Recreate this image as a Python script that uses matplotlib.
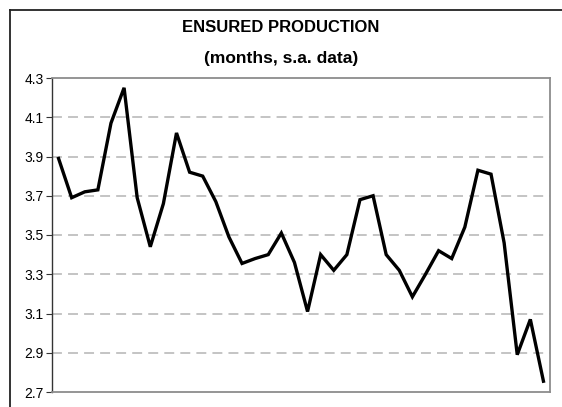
import matplotlib
matplotlib.use("Agg")
import matplotlib.pyplot as plt
from matplotlib.lines import Line2D

plt.rcParams['font.family'] = ['Liberation Sans', 'DejaVu Sans']

# Ensured production, months, seasonally adjusted (one value per period)
values = [3.89, 3.69, 3.72, 3.73, 4.07, 4.25, 3.69, 3.44, 3.66, 4.02,
          3.82, 3.80, 3.67, 3.49, 3.355, 3.38, 3.40, 3.51, 3.36, 3.11,
          3.40, 3.32, 3.40, 3.68, 3.70, 3.40, 3.32, 3.185, 3.30, 3.42,
          3.38, 3.54, 3.83, 3.81, 3.46, 2.89, 3.07, 2.755]
yticks = [2.7, 2.9, 3.1, 3.3, 3.5, 3.7, 3.9, 4.1, 4.3]
title1 = "ENSURED PRODUCTION"
title2 = "(months, s.a. data)"

W, H = 562, 407
fig = plt.figure(figsize=(W / 100, H / 100), dpi=100)
ax = fig.add_axes([52 / W, 1 - 392 / H, (550 - 52) / W, (392 - 78) / H])

x = [i + 0.5 for i in range(len(values))]
ax.plot(x, values, color='black', lw=2.4, solid_joinstyle='miter', zorder=3)

ax.set_xlim(0, len(values))
ax.set_ylim(2.7, 4.3)
ax.set_yticks(yticks)
ax.set_yticklabels([f"{v:.1f}" for v in yticks], fontsize=10)
ax.set_xticks([])
for v in yticks[1:-1]:
    ax.axhline(v, color='#b4b4b4', lw=1.1, dashes=(6.5, 4), zorder=1)

ax.tick_params(axis='y', length=4, width=0.8, color='#333333', pad=2)
for side in ['top', 'right', 'bottom']:
    ax.spines[side].set_color('#8c8c8c')
    ax.spines[side].set_linewidth(1.3)
ax.spines['left'].set_color('#333333')
ax.spines['left'].set_linewidth(1.0)

fig.text(0.5, 1 - 28 / H, title1, ha='center', va='center',
         fontsize=12, fontweight='bold')
fig.text(0.5, 1 - 58 / H, title2, ha='center', va='center',
         fontsize=12.5, fontweight='bold')

# outer chart frame (partly cut off at the right and bottom)
fx, fy = 10 / W, 1 - 9.5 / H
fig.add_artist(Line2D([fx, fx], [0, fy], transform=fig.transFigure,
                      color='#222222', lw=1.3))
fig.add_artist(Line2D([fx, 1], [fy, fy], transform=fig.transFigure,
                      color='#222222', lw=1.3))

fig.savefig("out.png", dpi=100)
